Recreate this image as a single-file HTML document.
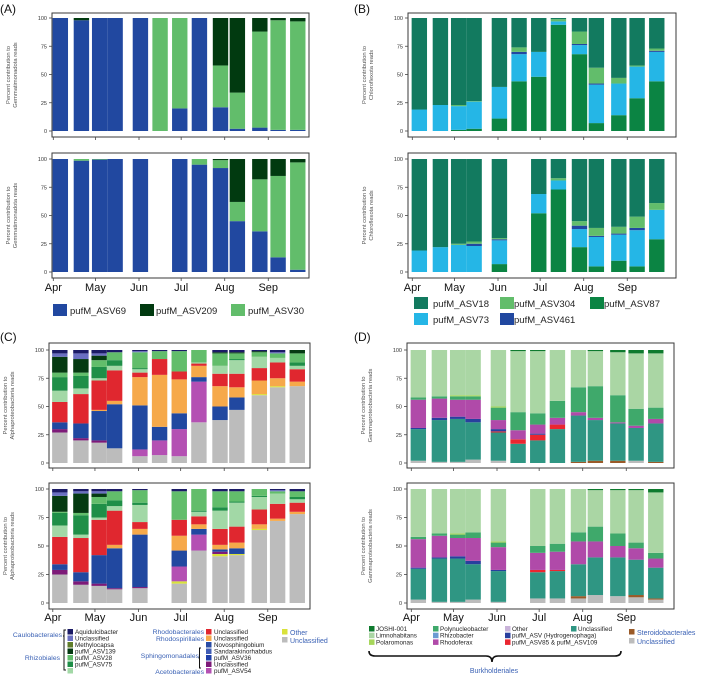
<!DOCTYPE html>
<html><head><meta charset="utf-8">
<style>
html,body{margin:0;padding:0;background:#fff;}
svg{display:block;font-family:"Liberation Sans",sans-serif;}
</style></head>
<body>
<svg id="fig" width="709" height="678" viewBox="0 0 709 678" xmlns="http://www.w3.org/2000/svg"></svg>
<script>
// ---- shared sample axis ----
const sampleDay = [5,20,33,44,62,76,90,104,119,131,147,160,174];
const monthLabels = ["Apr","May","Jun","Jul","Aug","Sep"];
const monthDay = [0,30,61,91,122,153];
const yTicks = [0,25,50,75,100];

// ---- Panel A: Gemmatimonadota (stack bottom->top: ASV69, ASV30, ASV209) ----
const aTopASV69  = [100,98,100,100,100,0,20,100,21,2,3,1,1];
const aTopASV30  = [0,0,0,0,0,100,80,0,37,32,85,97,96];
const aTopASV209 = [0,2,0,0,0,0,0,0,42,66,12,2,3];
const aBotASV69  = [100,98.5,99.5,100,100,null,100,95,92,45,36,13,2];
const aBotASV30  = [0,1.5,0.5,0,0,null,0,5,7,17,46,72,95];
const aBotASV209 = [0,0,0,0,0,null,0,0,1,38,18,15,3];

// ---- Panel B: Chloroflexota (bottom->top: ASV87, ASV73, ASV461, ASV304, ASV18) ----
const bTopASV87  = [0,0,1,2,11,44,48,94,68,7,14,29,44];
const bTopASV73  = [19,23,21,24,28,24,22,3,8,34,28,28,26];
const bTopASV461 = [0,0,0,0,0,2,0,0,1,1,0,0,1];
const bTopASV304 = [0,0,1,0.5,0,4,0,2,11,14,5,1,2];
const bTopASV18  = [81,77,77,73.5,61,26,30,1,12,44,53,42,27];
const bBotASV87  = [0,0,0,0,7,null,52,73,22,5,10,5,29];
const bBotASV73  = [19,22,24,23,21,null,17,8,16,26,23,32,26];
const bBotASV461 = [0,0,0,2,1,null,0,0,3,1,1,2,0];
const bBotASV304 = [0,0,1,2,1,null,0,2,4,7,6,10,6];
const bBotASV18  = [81,78,75,73,70,null,31,17,55,61,60,51,39];

// ---- Panel C: Alphaproteobacteria (bottom->top) ----
const cTopGray   = [27,20,18,13,6,7,6,36,38,47,60,67,68];
const cTopOther  = [0,0,0,0,0,0,0,0,0,0,1,1,0];
const cTopASV54  = [0,0,0,0,6,13,24,36,0,0,0,0,0];
const cTopSphU   = [3,2,2,0,0,0,0,0,0,0,0,0,0];
const cTopSphing = [6,13,26,39,39,12,14,4,12,11,0,0,0];
const cTopRhodoS = [0,0,1,3,25,46,30,10,18,9,12,7,4];
const cTopRhodoB = [18,26,26,27,4,14,7,2,11,12,11,14,11];
const cTopRhizL  = [10,5,2,4,3,0,0,1,7,12,10,4,3];
const cTopASV75  = [12,11,10,5,1,0,0,0,0,1,0,0,3];
const cTopASV28  = [4,3,6,7,14,7,18,11,11,5,4,4,8];
const cTopASV139 = [14,12,4,0,0,0,0,0,1,1,1,0,3];
const cTopCauU   = [3,5,2,0,1,0,0,0,0,0,0,1,0];
const cTopAquid  = [3,3,3,2,1,1,1,0,2,2,1,2,0];
const cBotGray   = [25,16,15,12,13,null,17,46,41,42,64,72,78];
const cBotOther  = [0,0,0,0,0,null,2,0,2,1,1,0,0];
const cBotASV54  = [0,0,0,0,0,null,13,14,0,0,0,0,0];
const cBotSphU   = [4,3,2,1,1,null,0,0,2,0,0,0,0];
const cBotSphing = [5,8,25,35,46,null,14,5,2,5,0,0,0];
const cBotRhodoS = [0,0,0,3,5,null,13,4,4,5,4,2,2];
const cBotRhodoB = [24,30,31,30,6,null,14,7,14,14,13,13,8];
const cBotRhizL  = [10,3,2,4,15,null,0,4,16,21,11,9,3];
const cBotASV75  = [11,17,12,5,2,null,0,1,3,1,1,0,2];
const cBotASV28  = [1,2,6,8,11,null,25,19,14,9,6,2,5];
const cBotASV139 = [14,17,3,0,0,null,0,0,0,0,0,0,0];
const cBotCauU   = [3,2,2,0,0,null,0,0,0,0,0,1,0];
const cBotAquid  = [3,2,2,2,1,null,2,0,2,2,0,1,2];

// ---- Panel D: Gammaproteobacteria (bottom->top) ----
const dTopGray   = [2,1,1,3,2,0,0,0,0,0,0,2,0];
const dTopBrown  = [0,0,0,0,0,0,0,0,1,2,2,0,1];
const dTopTeal   = [28,37,38,33,25,17,20,30,41,36,33,29,34];
const dTopRed    = [0,0,0,0,1,4,5,4,0,0,0,0,0];
const dTopHydro  = [1,2,2,3,2,0,1,0,0,0,0,0,0];
const dTopRhodo  = [25,17,15,17,8,8,8,6,3,2,1,2,4];
const dTopPoly   = [2,2,3,3,11,16,10,15,22,28,24,15,10];
const dTopPolar  = [0,0,1,1,1,0,0,0,0,0,0,0,0];
const dTopLimno  = [42,41,40,40,50,54,55,45,33,31,38,49,48];
const dTopJoshi  = [0,0,0,0,0,1,1,0,0,1,2,3,3];
const dBotGray   = [3,1,1,3,1,null,4,4,4,7,6,5,3];
const dBotBrown  = [0,0,0,0,0,null,0,0,2,0,0,2,1];
const dBotTeal   = [27,38,38,31,27,null,23,24,28,33,34,31,27];
const dBotRed    = [0,0,0,0,0,null,2,1,0,0,0,0,0];
const dBotHydro  = [1,1,2,3,1,null,0,0,0,0,0,0,0];
const dBotRhodo  = [25,19,16,20,20,null,15,16,20,14,10,10,8];
const dBotPoly   = [2,2,3,5,4,null,6,7,8,13,11,5,5];
const dBotPolar  = [0,0,1,0,1,null,0,0,0,0,0,0,0];
const dBotLimno  = [42,39,39,38,46,null,50,48,38,32,38,46,53];
const dBotJoshi  = [0,0,0,0,0,null,0,0,0,1,1,1,3];

// ---- colors ----
const C_BLUE="#2148a0", C_DKG="#013a10", C_LG="#62bd6b", C_TEAL="#127a5f", C_CYAN="#25b6e6", C_G87="#0b8443";
const C_GRAY="#bcbcbc";

const NS="http://www.w3.org/2000/svg";
const svg=document.getElementById('fig');
function mk(tag,parent){const e=document.createElementNS(NS,tag);parent.appendChild(e);return e;}
function txt(parent,x,y,s,size,fill,anchor,name){
  const t=mk('text',parent);
  t.setAttribute('x',x);t.setAttribute('y',y);
  t.setAttribute('font-size',size);t.setAttribute('fill',fill);
  if(anchor)t.setAttribute('text-anchor',anchor);
  t.textContent=s;
  
  
  return t;
}
const PX_PER_DAY=1.405, BAR_W=15.4;

function drawPlot(p, frame, seriesList, colors, name){
  const g=mk('g',svg);
  
  
  const yScale=v=>frame.y0-(frame.y0-frame.y100)*v/100;
  const xScale=d=>p.apr+d*PX_PER_DAY;
  for(let i=0;i<sampleDay.length;i++){
    let acc=0;
    const cx=xScale(sampleDay[i]);
    for(let s=0;s<seriesList.length;s++){
      const v=seriesList[s][i];
      if(v===null||v===undefined||v<=0){continue;}
      const r=mk('rect',g);
      r.setAttribute('x',(cx-BAR_W/2).toFixed(2));
      r.setAttribute('width',BAR_W);
      r.setAttribute('y',yScale(acc+v).toFixed(2));
      r.setAttribute('height',(yScale(acc)-yScale(acc+v)).toFixed(2));
      r.setAttribute('fill',colors[s]);
      
      
      acc+=v;
    }
  }
  const fr=mk('rect',g);
  fr.setAttribute('x',p.fx);fr.setAttribute('y',frame.top);
  fr.setAttribute('width',p.fw);fr.setAttribute('height',frame.bot-frame.top);
  fr.setAttribute('fill','none');fr.setAttribute('stroke','#3a3a3a');fr.setAttribute('stroke-width','1');
  
  
  yTicks.forEach(t=>{
    const y=yScale(t);
    const l=mk('line',g);
    l.setAttribute('x1',p.fx-3);l.setAttribute('x2',p.fx);l.setAttribute('y1',y);l.setAttribute('y2',y);
    l.setAttribute('stroke','#444');l.setAttribute('stroke-width','0.8');
    
    
    txt(g,p.fx-5,y+2,String(t),5.5,'#333','end','y-tick-label');
  });
  monthDay.forEach(d=>{
    const x=xScale(d);
    const l=mk('line',g);
    l.setAttribute('x1',x);l.setAttribute('x2',x);l.setAttribute('y1',frame.bot);l.setAttribute('y2',frame.bot+3);
    l.setAttribute('stroke','#444');l.setAttribute('stroke-width','0.8');
    
    
  });
  const cy=(frame.top+frame.bot)/2;
  const yt=mk('text',g);
  yt.setAttribute('transform','translate('+(p.fx-42)+','+cy+') rotate(-90)');
  yt.setAttribute('font-size','5.8');yt.setAttribute('fill','#555');yt.setAttribute('text-anchor','middle');
  
  
  const t1=mk('tspan',yt);t1.setAttribute('x',0);t1.setAttribute('y',0);t1.textContent='Percent contribution to';
  const t2=mk('tspan',yt);t2.setAttribute('x',0);t2.setAttribute('y',7);t2.textContent=p.taxon+' reads';
  return yScale;
}
function monthAxis(p,y){
  monthDay.forEach((d,i)=>{txt(svg,p.apr+d*PX_PER_DAY,y,monthLabels[i],11,'#111','middle','month-label');});
}
function sq(x,y,w,h,c,name){
  const r=mk('rect',svg);
  r.setAttribute('x',x);r.setAttribute('y',y);r.setAttribute('width',w);r.setAttribute('height',h);r.setAttribute('fill',c);
  
  
}

// ---- Panel A ----
const pA={apr:53.3,fx:52,fw:257,taxon:'Gemmatimonadota'};
const fTopA={top:13,bot:137,y100:18,y0:131}, fBotA={top:153,bot:278,y100:159,y0:272};
txt(svg,0,13,'(A)',12,'#111',null,'panel-label-a');
drawPlot(pA,fTopA,[aTopASV69,aTopASV30,aTopASV209],[C_BLUE,C_LG,C_DKG],'panel-a-top');
drawPlot(pA,fBotA,[aBotASV69,aBotASV30,aBotASV209],[C_BLUE,C_LG,C_DKG],'panel-a-bottom');
monthAxis(pA,291);
sq(53,304,14,12,C_BLUE,'legend-swatch-asv69');txt(svg,70,314,'pufM_ASV69',9.5,'#222',null,'legend-label');
sq(140,304,14,12,C_DKG,'legend-swatch-asv209');txt(svg,156,314,'pufM_ASV209',9.5,'#222',null,'legend-label');
sq(231,304,14,12,C_LG,'legend-swatch-asv30');txt(svg,248,314,'pufM_ASV30',9.5,'#222',null,'legend-label');

// ---- Panel B ----
const pB={apr:412.3,fx:408,fw:268,taxon:'Chloroflexota'};
txt(svg,354,13,'(B)',12,'#111',null,'panel-label-b');
drawPlot(pB,fTopA,[bTopASV87,bTopASV73,bTopASV461,bTopASV304,bTopASV18],[C_G87,C_CYAN,C_BLUE,C_LG,C_TEAL],'panel-b-top');
drawPlot(pB,fBotA,[bBotASV87,bBotASV73,bBotASV461,bBotASV304,bBotASV18],[C_G87,C_CYAN,C_BLUE,C_LG,C_TEAL],'panel-b-bottom');
monthAxis(pB,291);
sq(414,297,14,12,C_TEAL,'legend-swatch-asv18');txt(svg,433,307,'pufM_ASV18',9.5,'#222',null,'legend-label');
sq(500,297,14,12,C_LG,'legend-swatch-asv304');txt(svg,514,307,'pufM_ASV304',9.5,'#222',null,'legend-label');
sq(590,297,14,12,C_G87,'legend-swatch-asv87');txt(svg,604,307,'pufM_ASV87',9.5,'#222',null,'legend-label');
sq(414,313,14,12,C_CYAN,'legend-swatch-asv73');txt(svg,433,323,'pufM_ASV73',9.5,'#222',null,'legend-label');
sq(500,313,14,12,C_BLUE,'legend-swatch-asv461');txt(svg,514,323,'pufM_ASV461',9.5,'#222',null,'legend-label');

// ---- Panel C ----
const cCols=[C_GRAY,"#d9e23a","#b450b3","#7d1a78",C_BLUE,"#f6a94a","#e0272f","#a2d8a6","#1f8f48",C_LG,"#053a12","#6a6fc2","#1b1b66"];
const pC={apr:52.8,fx:49,fw:261,taxon:'Alphaproteobacteria'};
const fTopC={top:343,bot:468,y100:350,y0:463}, fBotC={top:483,bot:609,y100:489,y0:603};
txt(svg,0,341,'(C)',12,'#111',null,'panel-label-c');
drawPlot(pC,fTopC,[cTopGray,cTopOther,cTopASV54,cTopSphU,cTopSphing,cTopRhodoS,cTopRhodoB,cTopRhizL,cTopASV75,cTopASV28,cTopASV139,cTopCauU,cTopAquid],cCols,'panel-c-top');
drawPlot(pC,fBotC,[cBotGray,cBotOther,cBotASV54,cBotSphU,cBotSphing,cBotRhodoS,cBotRhodoB,cBotRhizL,cBotASV75,cBotASV28,cBotASV139,cBotCauU,cBotAquid],cCols,'panel-c-bottom');
monthAxis(pC,621);
const BL="#3b62b5";
const cLeg=[["Aquidulcibacter","#1b1b66"],["Unclassified","#6a6fc2"],["Methylocapsa","#5f7d2a"],["pufM_ASV139","#053a12"],["pufM_ASV28",C_LG],["pufM_ASV75","#1f8f48"],["","#a2d8a6"]];
const cLegY=[629,635.5,642,648.5,655,661.5,668];
cLeg.forEach((e,i)=>{sq(67.5,cLegY[i],5.5,5.5,e[1],'legend-swatch');if(e[0])txt(svg,75,cLegY[i]+5,e[0],6.3,'#222',null,'legend-label');});
txt(svg,62,637,'Caulobacterales',6.8,BL,'end','group-label-caulobacterales');
txt(svg,60,660,'Rhizobiales',6.8,BL,'end','group-label-rhizobiales');
const cLeg2=[["Unclassified","#e0272f"],["Unclassified","#f6a94a"],["Novosphingobium","#2a4ca5"],["Sandarakinorhabdus","#3f5cb5"],["pufM_ASV36","#1f3fa8"],["Unclassified","#7d1a78"],["pufM_ASV54","#b450b3"]];
cLeg2.forEach((e,i)=>{sq(206,cLegY[i],5.5,5.5,e[1],'legend-swatch');txt(svg,214,cLegY[i]+5,e[0],6.3,'#222',null,'legend-label');});
txt(svg,204,634,'Rhodobacterales',6.8,BL,'end','group-label-rhodobacterales');
txt(svg,204,641,'Rhodospirillales',6.8,BL,'end','group-label-rhodospirillales');
txt(svg,199,658,'Sphingomonadales',6.8,BL,'end','group-label-sphingomonadales');
txt(svg,204,674,'Acetobacterales',6.8,BL,'end','group-label-acetobacterales');
sq(282,629,5.5,5.5,"#d9e23a",'legend-swatch-other');txt(svg,290,635,'Other',7,BL,null,'legend-label-other');
sq(282,637,5.5,5.5,C_GRAY,'legend-swatch-unclassified');txt(svg,290,643,'Unclassified',7,BL,null,'legend-label-unclassified');
const br=mk('path',svg);
br.setAttribute('d','M66,630 h-2 v40 h2 M64,636 h-1 M201,648 h-1.5 v20 h1.5 M199.5,658 h-1');
br.setAttribute('stroke','#111');br.setAttribute('fill','none');br.setAttribute('stroke-width','1');



// ---- Panel D ----
const dCols=[C_GRAY,"#9a5a28","#2f9683","#ea2630","#283f9e","#b04aa9","#3fa96b","#a6d65a","#aad6a4","#0e7a2e"];
const pD={apr:411.3,fx:407,fw:267,taxon:'Gammaproteobacteria'};
txt(svg,354,341,'(D)',12,'#111',null,'panel-label-d');
drawPlot(pD,fTopC,[dTopGray,dTopBrown,dTopTeal,dTopRed,dTopHydro,dTopRhodo,dTopPoly,dTopPolar,dTopLimno,dTopJoshi],dCols,'panel-d-top');
drawPlot(pD,fBotC,[dBotGray,dBotBrown,dBotTeal,dBotRed,dBotHydro,dBotRhodo,dBotPoly,dBotPolar,dBotLimno,dBotJoshi],dCols,'panel-d-bottom');
monthAxis(pD,621);
const dLeg=[
 [369,0,"JOSHI-001","#0e7a2e"],[369,1,"Limnohabitans","#aad6a4"],[369,2,"Polaromonas","#a6d65a"],
 [433,0,"Polynucleobacter","#3fa96b"],[433,1,"Rhizobacter","#6b9bd2"],[433,2,"Rhodoferax","#b04aa9"],
 [505,0,"Other","#c9b3d9"],[505,1,"pufM_ASV (Hydrogenophaga)","#283f9e"],[505,2,"pufM_ASV85 & pufM_ASV109","#ea2630"],
 [571,0,"Unclassified","#2f9683"]];
dLeg.forEach(e=>{const y=626+e[1]*6.7;sq(e[0],y,5.5,5.5,e[3],'legend-swatch');txt(svg,e[0]+7,y+5,e[2],6.3,'#222',null,'legend-label');});
sq(629,629,5.5,5.5,"#9a5a28",'legend-swatch-steroidobacterales');txt(svg,637,635,'Steroidobacterales',7,BL,null,'legend-label-steroidobacterales');
sq(629,638,5.5,5.5,C_GRAY,'legend-swatch-unclassified-d');txt(svg,637,644,'Unclassified',7,BL,null,'legend-label-unclassified-d');
const brace=mk('path',svg);
brace.setAttribute('d','M369,651 Q369,656 375,656 L486,656 Q492,656 492,662 Q492,656 498,656 L615,656 Q621,656 621,651');
brace.setAttribute('stroke','#111');brace.setAttribute('fill','none');brace.setAttribute('stroke-width','1.6');


txt(svg,494,673,'Burkholderiales',7,BL,'middle','group-label-burkholderiales');
</script>
</body></html>
